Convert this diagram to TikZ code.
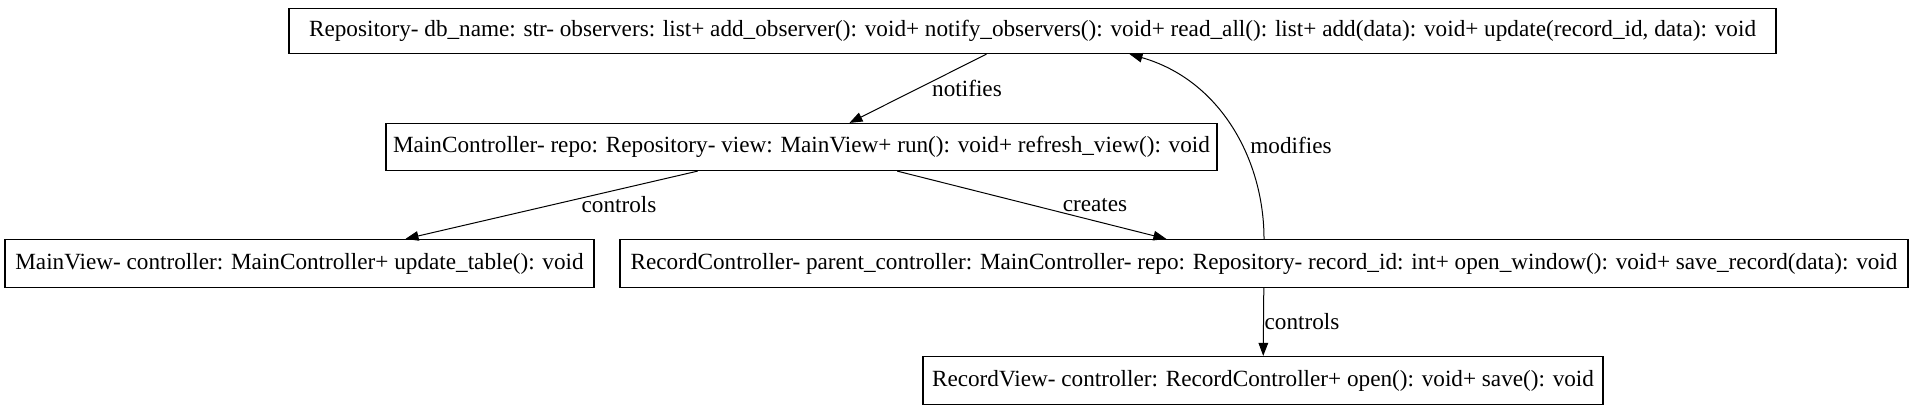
\documentclass[tikz,border=0pt]{standalone}
\usepackage{fontspec}
\setmainfont{Liberation Serif}
\usetikzlibrary{arrows.meta}
\begin{document}
\begin{tikzpicture}[x=0.5pt,y=-0.5pt,
  cls/.style={draw=black,line width=0.6pt,rectangle,inner sep=0pt,font=\fontsize{11.6}{13}\selectfont},
  lbl/.style={inner sep=0pt,font=\fontsize{11.6}{13}\selectfont},
  arr/.style={-{Triangle[length=6.5pt,width=4.8pt]},line width=0.5pt}]
\useasboundingbox (0,0) rectangle (1914,412);
\node[cls,minimum width=743.5pt,minimum height=22.5pt] (repo) at (1032.5,31) {Repository- db\_name: str- observers: list+ add\_observer(): void+ notify\_observers(): void+ read\_all(): list+ add(data): void+ update(record\_id, data): void};
\node[cls,minimum width=415.5pt,minimum height=23.5pt] (mc) at (801.5,147) {MainController- repo: Repository- view: MainView+ run(): void+ refresh\_view(): void};
\node[cls,minimum width=294.5pt,minimum height=24pt] (mv) at (299.5,263.5) {MainView- controller: MainController+ update\_table(): void};
\node[cls,minimum width=644pt,minimum height=24pt] (rc) at (1264,263.5) {RecordController- parent\_controller: MainController- repo: Repository- record\_id: int+ open\_window(): void+ save\_record(data): void};
\node[cls,minimum width=340pt,minimum height=24pt] (rv) at (1263,380.5) {RecordView- controller: RecordController+ open(): void+ save(): void};
\draw[arr] (repo) -- (mc);
\draw[arr] (mc) -- (mv);
\draw[arr] (mc) -- (rc);
\draw[arr] (rc) -- (rv);
\draw[arr] (rc.north) .. controls +(0,-79) and +(91,26) .. ([xshift=48.5pt]repo.south);
\node[lbl] (lnot) at (967,88) {notifies};
\node[lbl] (lctl1) at (619,205) {controls};
\node[lbl] (lcre) at (1095,205) {creates};
\node[lbl] (lmod) at (1291,145) {modifies};
\node[lbl] (lctl2) at (1302,322) {controls};
\end{tikzpicture}
\end{document}
